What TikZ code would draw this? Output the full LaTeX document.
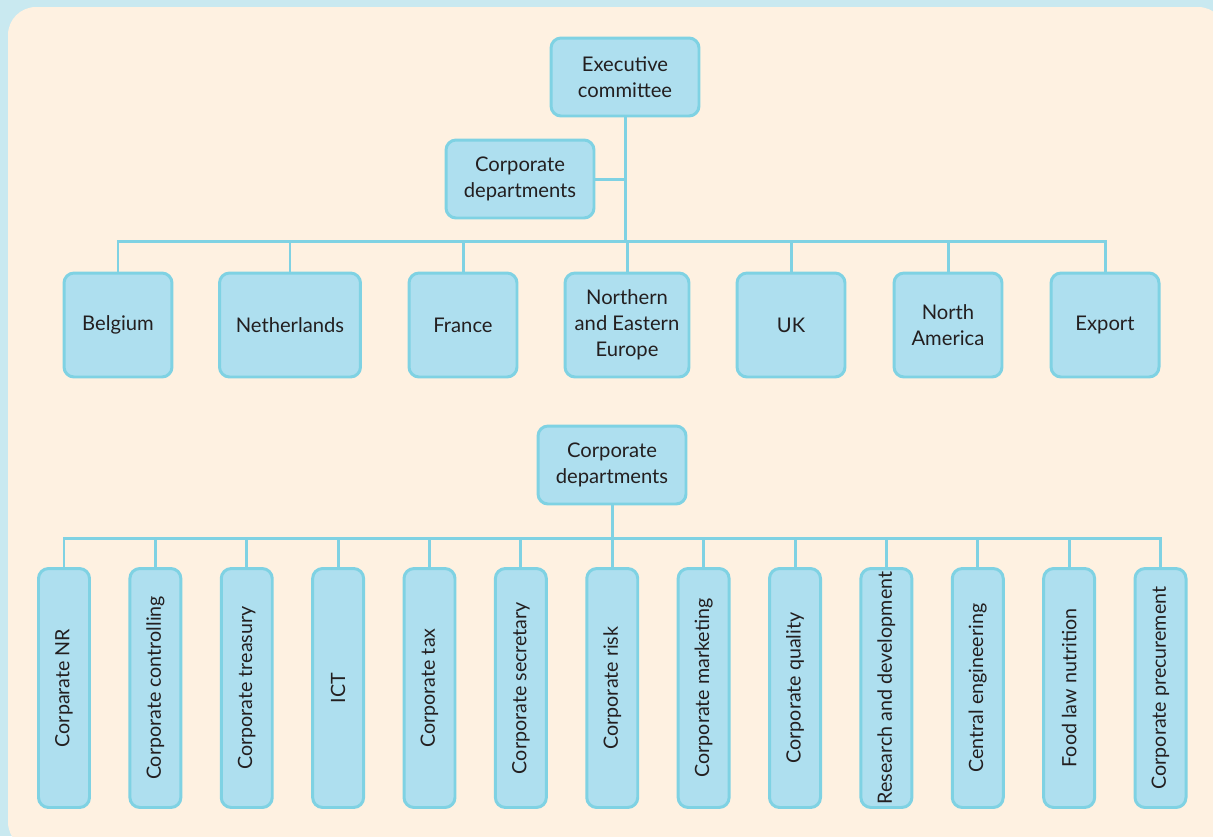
\documentclass[tikz,border=0pt]{standalone}
\usepackage{fontspec}
\setmainfont{Lato}
\usepackage{tikz}
\usetikzlibrary{positioning}
\definecolor{framebg}{HTML}{C9E9F0}
\definecolor{paper}{HTML}{FEF1E1}
\definecolor{boxfill}{HTML}{AEDFEF}
\definecolor{boxline}{HTML}{7FD2E3}
\definecolor{ink}{HTML}{231F20}
\tikzset{
    org box/.style={
        draw=boxline,line width=1.7pt,rounded corners=0.2cm,
        fill=boxfill,text=ink,
        minimum width=2.96cm,minimum height=1.56cm,
        align=center,inner sep=2pt,
        font=\fontsize{11.5}{14.8}\selectfont
    },
    country box/.style={
        org box,
        minimum width=#1,minimum height=2.08cm
    },
    dept box/.style={
        org box,inner sep=0pt,
        minimum width=1.02cm,minimum height=4.78cm,
        font=\fontsize{11.2}{14}\selectfont
    },
    link/.style={boxline,line width=1.7pt}
}
\begin{document}
\begin{tikzpicture}[x=0.02cm,y=-0.02cm]
\useasboundingbox (0,0) rectangle (1213,836);
\clip (0,0) rectangle (1213,836);
\fill[framebg] (0,0) rectangle (1213,836);
\fill[paper,rounded corners=0.56cm] (8,7) rectangle (1226,850);
% top part
\node[org box] (exec) at (625,77) {Executive\\committee};
\node[org box] (corp_top) at (520,179) {Corporate\\departments};
\coordinate (top_bus) at (625,241);
\foreach \i/\x/\w/\name in {0/118/2.16cm/Belgium,1/290/2.82cm/Netherlands,2/463/2.16cm/France,
    3/627/2.48cm/Northern\\and Eastern\\Europe,4/791/2.16cm/UK,5/948/2.16cm/North\\America,6/1105/2.16cm/Export}
    \node[country box=\w] (country_\i) at (\x,325) {\name};
\draw[link] (exec.south) -- (top_bus);
\draw[link] (corp_top.east) -- (corp_top.east -| exec.south);
\foreach \i in {0,...,6}
    \draw[link] (country_\i.north) |- (top_bus);
% lower part
\node[org box] (corp_low) at (612,465) {Corporate\\departments};
\coordinate (low_bus) at (612,538);
\foreach \i/\name in {0/Corparate NR,1/Corporate controlling,2/Corporate treasury,3/ICT,
    4/Corporate tax,5/Corporate secretary,6/Corporate risk,7/Corporate marketing,
    8/Corporate quality,9/Research and development,10/Central engineering,
    11/Food law nutrition,12/Corporate precurement}
    \node[dept box] (dept_\i) at (64+91.375*\i,688) {\rotatebox{90}{\name}};
\draw[link] (corp_low.south) -- (low_bus);
\foreach \i in {0,...,12}
    \draw[link] (dept_\i.north) |- (low_bus);
\end{tikzpicture}
\end{document}
